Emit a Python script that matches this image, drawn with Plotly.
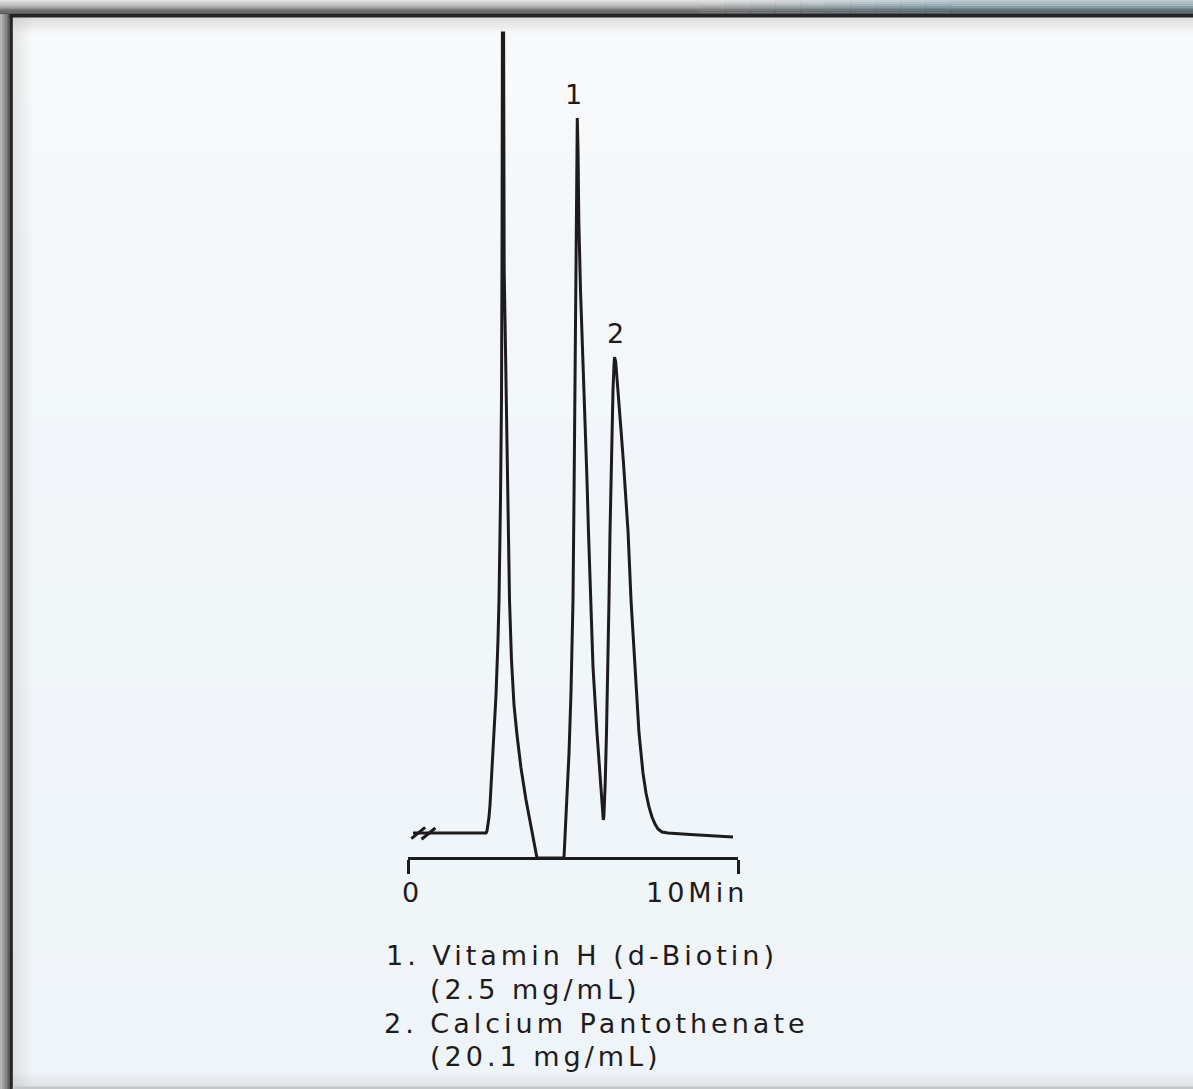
import plotly.graph_objects as go

W, H = 1193, 1089

# ---------------- data ----------------
# chromatogram: retention time (min) and detector signal (arbitrary units)
time_min = [0.152, 2.364, 2.394, 2.424, 2.455, 2.485, 2.545, 2.606, 2.667, 2.727,
            2.758, 2.803, 2.833, 2.848, 2.855, 2.861, 2.897, 2.903, 2.915, 2.955,
            2.985, 3.030, 3.076, 3.136, 3.212, 3.303, 3.424, 3.576, 3.727, 3.909,
            4.727, 4.773, 4.818, 4.879, 4.939, 5.000, 5.030, 5.061, 5.091, 5.112,
            5.121, 5.130, 5.152, 5.176, 5.227, 5.303, 5.379, 5.424, 5.470, 5.530,
            5.606, 5.727, 5.833, 5.874, 5.900, 5.918, 5.936, 5.961, 5.976, 6.015,
            6.061, 6.091, 6.121, 6.152, 6.182, 6.212, 6.242, 6.260, 6.294, 6.333,
            6.379, 6.455, 6.530, 6.667, 6.758, 6.879, 7.000, 7.121, 7.212, 7.303,
            7.394, 7.485, 7.576, 7.697, 7.879, 8.545, 9.152, 9.848]
signal = [0.0, 0.0, 0.25, 1.0, 2.0, 3.5, 7.875, 11.875, 17.25, 24.125,
          29.125, 41.625, 54.125, 70.375, 85.375, 100.0, 100.0, 85.375, 70.375, 60.375,
          51.625, 39.125, 29.125, 21.625, 16.0, 12.25, 8.125, 4.125, 0.625, -3.125,
          -3.125, 0.5, 4.0, 10.0, 17.5, 29.125, 41.625, 54.125, 66.625, 76.625,
          84.125, 89.375, 85.375, 76.625, 67.875, 59.125, 51.625, 44.125, 37.5, 29.125,
          20.75, 12.5, 6.25, 3.75, 2.25, 1.625, 2.125, 4.25, 6.25, 12.5,
          20.75, 29.125, 37.5, 45.375, 51.625, 55.375, 58.5, 59.5, 58.875, 57.0,
          54.5, 50.375, 46.25, 37.75, 29.125, 20.75, 12.5, 7.5, 5.0, 3.25,
          2.0, 1.125, 0.5, 0.125, 0.0, -0.1875, -0.3125, -0.5]

axis_ticks = [0, 10]
axis_tick_labels = ["0", "10Min"]

peak_numbers = ["1", "2"]
peak_times = [5.130, 6.260]
peak_heights = [89.375, 59.5]

legend_lines = ["1. Vitamin H (d-Biotin)", "(2.5 mg/mL)",
                "2. Calcium Pantothenate", "(20.1 mg/mL)"]

# ---------------- helpers ----------------
INK = "#1e1b1c"
FONT = "DejaVu Sans, Verdana, sans-serif"


def px(x):
    return x / W


def py(y):
    return 1 - y / H


def spaced(t, sp=4):
    return f'<span style="letter-spacing:{sp}px">{t}</span>'


def lerp_col(c1, c2, f):
    a = [int(c1[i:i + 2], 16) for i in (1, 3, 5)]
    b = [int(c2[i:i + 2], 16) for i in (1, 3, 5)]
    return "#" + "".join(f"{round(a[k] + (b[k] - a[k]) * f):02x}" for k in range(3))


shapes = []


def rect(x0, y0, x1, y1, color, opacity=1.0, layer="below"):
    shapes.append(dict(type="rect", xref="paper", yref="paper",
                       x0=px(x0), x1=px(x1), y0=py(y1), y1=py(y0),
                       fillcolor=color, opacity=opacity, line=dict(width=0),
                       layer=layer))


# background gradient (vertical)
n = 40
for i in range(n):
    y0 = 17 + (1087 - 17) * i / n
    y1 = 17 + (1087 - 17) * (i + 1) / n + 1
    f = i / (n - 1)
    if f < 0.25:
        c = lerp_col("#f8f9fa", "#f3f7fa", f / 0.25)
    else:
        c = lerp_col("#f3f7fa", "#eff4f8", (f - 0.25) / 0.75)
    rect(12, y0, W, y1, c)

# inner shadows
for i in range(8):
    rect(12, 17 + i * 2, W, 19 + i * 2, "#9a9a9a", 0.28 * (1 - i / 8))
for i in range(8):
    rect(12 + i * 2.5, 17, 14.5 + i * 2.5, 1087, "#a0a0a0", 0.22 * (1 - i / 8))
for i in range(6):
    rect(12, 1085 - i * 2.5, W, 1087.5 - i * 2.5, "#b0b0b0", 0.25 * (1 - i / 6))

# outer top shadow (gray on left, bluish on right)
top_l = ["#dedede", "#cfcfcf", "#bdbdbd", "#a8a8a8", "#929292", "#7c7c7c", "#686868", "#575757"]
top_r = ["#b9cdd3", "#a9bec5", "#98adb4", "#879ca3", "#758990", "#64767c", "#55656b", "#4a575c"]
for i in range(8):
    y0 = i * 1.8
    for k in range(10):
        xa = 700 + k * 25
        f = k / 9
        rect(xa, y0, xa + 26, y0 + 1.9, lerp_col(top_l[i], top_r[i], f))
    rect(0, y0, 700, y0 + 1.9, top_l[i])
    rect(950, y0, W, y0 + 1.9, top_r[i])
# outer left shadow
left_c = ["#b4b4b4", "#a2a2a2", "#909090", "#7e7e7e", "#6c6c6c", "#5c5c5c"]
for i in range(6):
    rect(i * 1.6, 14, i * 1.6 + 1.7, H, left_c[i])
# dark frame lines
rect(9.5, 14, W, 17.5, "#262327")
rect(9.5, 14, 12.8, H, "#262327")
rect(12.8, 1086.5, W, H, "#c4c7ca")

# break mark "//" on the baseline (data coordinates)
for (xa, ya, xb, yb) in [(0.10, -0.70, 0.52, 0.70), (0.41, -0.78, 0.83, 0.62)]:
    shapes.append(dict(type="line", xref="x", yref="y", x0=xa, y0=ya, x1=xb, y1=yb,
                       line=dict(color=INK, width=3), layer="above"))

# ---------------- figure ----------------
fig = go.Figure()
fig.add_trace(go.Scatter(x=time_min, y=signal, mode="lines",
                         line=dict(color=INK, width=3),
                         hoverinfo="skip", showlegend=False))

annotations = []
# peak numbers
for lab, t, h in zip(peak_numbers, peak_times, peak_heights):
    annotations.append(dict(x=t, y=h, xref="x", yref="y", text=lab, showarrow=False,
                            xanchor="center", yanchor="bottom", yshift=6,
                            xshift=-4 if lab == "1" else 1,
                            font=dict(family=FONT, size=27, color=INK)))
# axis labels
annotations.append(dict(x=axis_ticks[0], y=-3.125, xref="x", yref="y",
                        text=axis_tick_labels[0], showarrow=False,
                        xanchor="center", yanchor="top", xshift=2, yshift=-17,
                        font=dict(family=FONT, size=27, color=INK)))
annotations.append(dict(x=axis_ticks[1], y=-3.125, xref="x", yref="y",
                        text=spaced(axis_tick_labels[1], 4), showarrow=False,
                        xanchor="right", yanchor="top", xshift=12, yshift=-17,
                        font=dict(family=FONT, size=27, color=INK)))
# compound list
line_y = [955, 989, 1023, 1056]
line_x = [384, 428, 382, 428]
for t, yy, xx in zip(legend_lines, line_y, line_x):
    annotations.append(dict(x=px(xx), y=py(yy), xref="paper", yref="paper",
                            text=spaced(t.replace(" ", "\u00a0"), 4), showarrow=False,
                            xanchor="left", yanchor="middle",
                            font=dict(family=FONT, size=27, color=INK)))

fig.update_layout(
    width=W, height=H,
    margin=dict(l=0, r=0, t=0, b=0),
    paper_bgcolor="#f2f6fa",
    plot_bgcolor="rgba(0,0,0,0)",
    showlegend=False,
    xaxis=dict(domain=[px(408), px(738)], range=[0, 10],
               anchor="free", position=py(858),
               showline=True, linecolor=INK, linewidth=3,
               ticks="outside", ticklen=14, tickwidth=3, tickcolor=INK,
               tickvals=axis_ticks, showticklabels=False,
               showgrid=False, zeroline=False, fixedrange=True),
    yaxis=dict(domain=[0, 1], range=[(833 - H) / 8, 833 / 8],
               visible=False, showgrid=False, zeroline=False, fixedrange=True),
    shapes=shapes,
    annotations=annotations,
)

fig.write_html("out.html")
